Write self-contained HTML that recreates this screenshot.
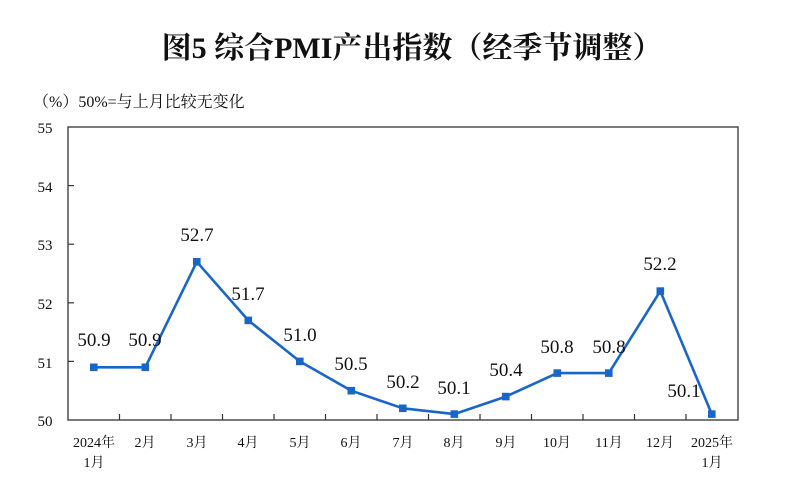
<!DOCTYPE html>
<html><head><meta charset="utf-8"><style>
body{margin:0;background:#fff;}
svg{display:block;}
text{font-family:"Liberation Serif","Noto Serif CJK SC",serif;fill:#111;}
</style></head><body>
<svg width="800" height="496" viewBox="0 0 800 496" xmlns="http://www.w3.org/2000/svg">
<text x="412" y="58" font-size="30" font-weight="bold" text-anchor="middle" font-family="'Liberation Sans','Noto Sans CJK SC',sans-serif">图5  综合PMI产出指数（经季节调整）</text>
<text x="33" y="107" font-size="16" font-family="'Liberation Serif','Noto Sans CJK SC',serif">（%）50%=与上月比较无变化</text>
<rect x="68" y="127" width="670" height="293" fill="none" stroke="#333" stroke-width="1.3"/>
<g font-size="15" text-anchor="middle">
<text x="45" y="133">55</text><text x="45" y="192">54</text><text x="45" y="250">53</text><text x="45" y="309">52</text><text x="45" y="368">51</text><text x="45" y="426">50</text>
</g>
<g stroke="#333" stroke-width="1.2">
<line x1="68" y1="185.6" x2="74" y2="185.6"/><line x1="68" y1="244.2" x2="74" y2="244.2"/><line x1="68" y1="302.8" x2="74" y2="302.8"/><line x1="68" y1="361.4" x2="74" y2="361.4"/>
<line x1="119.5" y1="420" x2="119.5" y2="414"/><line x1="171" y1="420" x2="171" y2="414"/><line x1="222.5" y1="420" x2="222.5" y2="414"/><line x1="274" y1="420" x2="274" y2="414"/><line x1="325.5" y1="420" x2="325.5" y2="414"/><line x1="377" y1="420" x2="377" y2="414"/><line x1="428.5" y1="420" x2="428.5" y2="414"/><line x1="480" y1="420" x2="480" y2="414"/><line x1="531.5" y1="420" x2="531.5" y2="414"/><line x1="583" y1="420" x2="583" y2="414"/><line x1="634.5" y1="420" x2="634.5" y2="414"/><line x1="686" y1="420" x2="686" y2="414"/>
</g>
<g font-size="14" text-anchor="middle">
<text x="94" y="447">2024年</text><text x="94" y="467">1月</text>
<text x="145" y="447">2月</text><text x="197" y="447">3月</text><text x="248" y="447">4月</text><text x="300" y="447">5月</text><text x="351" y="447">6月</text><text x="403" y="447">7月</text><text x="454" y="447">8月</text><text x="506" y="447">9月</text><text x="557" y="447">10月</text><text x="609" y="447">11月</text><text x="660" y="447">12月</text>
<text x="712" y="447">2025年</text><text x="712" y="467">1月</text>
</g>
<polyline fill="none" stroke="#1a66c8" stroke-width="2.6" stroke-linejoin="round" points="93.8,367.3 145.3,367.3 196.8,261.8 248.3,320.4 299.8,361.4 351.3,390.7 402.8,408.3 454.3,414.1 505.8,396.6 557.3,373.1 608.8,373.1 660.3,291.1 711.8,414.1"/>
<g fill="#1a66c8">
<rect x="90" y="363.5" width="7.6" height="7.6"/><rect x="141.5" y="363.5" width="7.6" height="7.6"/><rect x="193" y="258" width="7.6" height="7.6"/><rect x="244.5" y="316.6" width="7.6" height="7.6"/><rect x="296" y="357.6" width="7.6" height="7.6"/><rect x="347.5" y="386.9" width="7.6" height="7.6"/><rect x="399" y="404.5" width="7.6" height="7.6"/><rect x="450.5" y="410.3" width="7.6" height="7.6"/><rect x="502" y="392.8" width="7.6" height="7.6"/><rect x="553.5" y="369.3" width="7.6" height="7.6"/><rect x="605" y="369.3" width="7.6" height="7.6"/><rect x="656.5" y="287.3" width="7.6" height="7.6"/><rect x="708" y="410.3" width="7.6" height="7.6"/>
</g>
<g font-size="19" text-anchor="middle">
<text x="94" y="346">50.9</text><text x="145" y="346">50.9</text><text x="197" y="241">52.7</text><text x="248" y="300">51.7</text><text x="300" y="341">51.0</text><text x="351" y="370">50.5</text><text x="403" y="388">50.2</text><text x="454" y="394">50.1</text><text x="506" y="376">50.4</text><text x="557" y="353">50.8</text><text x="609" y="353">50.8</text><text x="660" y="270">52.2</text><text x="684" y="397">50.1</text>
</g>
</svg>
</body></html>
